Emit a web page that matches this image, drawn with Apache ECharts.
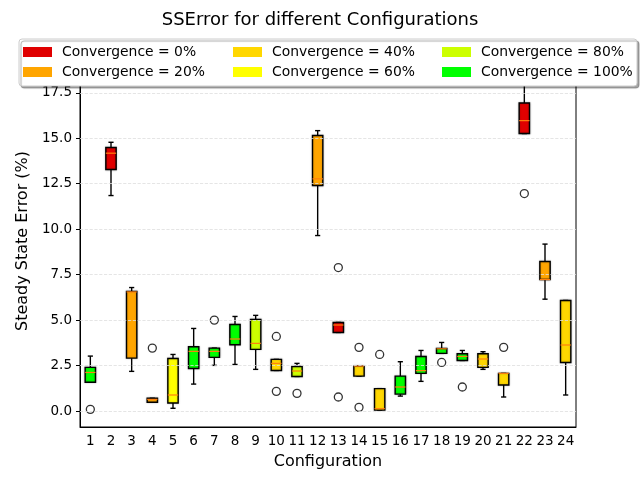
<!DOCTYPE html>
<html>
<head>
<meta charset="UTF-8">
<title>SSError</title>
<style type="text/css">
	html, body { margin: 0; padding: 0; background: #fff; }
	#chart { width: 640px; height: 480px; }
</style>
<script type="text/javascript" src="https://cdn.jsdelivr.net/npm/echarts@6/dist/echarts.min.js"></script>
</head>
<body>
<div id="chart"></div>
<script type="text/javascript">
	// configurations 1..24
	var categories = ['1','2','3','4','5','6','7','8','9','10','11','12','13','14','15','16','17','18','19','20','21','22','23','24'];
	// box statistics
	var whiskerLow  = [1.58, 11.85, 2.18, 0.48, 0.15, 1.48, 2.51, 2.56, 2.29, 2.23, 1.90, 9.65, 4.32, 1.92, 0.05, 0.82, 1.63, 3.17, 2.78, 2.29, 0.77, 15.26, 6.15, 0.88];
	var q1          = [1.58, 13.28, 2.91, 0.48, 0.44, 2.34, 2.95, 3.64, 3.39, 2.23, 1.90, 12.40, 4.32, 1.92, 0.05, 0.93, 2.07, 3.17, 2.78, 2.40, 1.43, 15.26, 7.23, 2.67];
	var median      = [2.12, 14.18, 6.55, 0.64, 0.88, 3.28, 3.28, 3.96, 3.72, 2.62, 2.20, 12.77, 4.73, 2.47, 0.13, 1.32, 2.22, 3.42, 3.00, 2.86, 2.07, 15.97, 7.23, 3.63];
	var q3          = [2.40, 14.49, 6.58, 0.70, 2.89, 3.53, 3.46, 4.76, 5.04, 2.84, 2.45, 15.15, 4.87, 2.47, 1.23, 1.92, 3.00, 3.44, 3.15, 3.15, 2.07, 16.94, 8.22, 6.08];
	var whiskerHigh = [3.02, 14.78, 6.79, 0.70, 3.11, 4.54, 3.46, 5.20, 5.26, 2.84, 2.62, 15.42, 4.87, 2.47, 1.23, 2.71, 3.33, 3.77, 3.33, 3.26, 2.07, 18.65, 9.18, 6.08];
	// convergence level of each configuration (index into levels)
	var convergence = [5, 0, 1, 1, 3, 5, 5, 5, 4, 2, 4, 1, 0, 2, 2, 5, 5, 5, 5, 2, 2, 0, 1, 2];
	// outliers: [configuration index, value]
	var outliers = [[0, 0.09], [3, 3.46], [6, 5.00], [9, 4.10], [9, 1.08], [10, 0.97],
		[12, 7.89], [12, 0.77], [13, 3.50], [13, 0.20], [14, 3.11], [17, 2.67],
		[18, 1.32], [20, 3.50], [21, 11.96]];
	var levels = ['Convergence = 0%', 'Convergence = 20%', 'Convergence = 40%', 'Convergence = 60%', 'Convergence = 80%', 'Convergence = 100%'];
	var levelColors = ['#e00000', '#ffa500', '#ffd700', '#ffff00', '#ccff00', '#00ff00'];
	var yTicks = [0, 2.5, 5, 7.5, 10, 12.5, 15, 17.5];

	var boxData = [];
	for (var i = 0; i < categories.length; i++) {
		boxData.push([i, whiskerLow[i], q1[i], median[i], q3[i], whiskerHigh[i], convergence[i]]);
	}

	function renderBox(params, api) {
		var x = api.value(0);
		var lo = api.coord([x, api.value(1)]);
		var b1 = api.coord([x, api.value(2)]);
		var md = api.coord([x, api.value(3)]);
		var b3 = api.coord([x, api.value(4)]);
		var hi = api.coord([x, api.value(5)]);
		var band = api.size([1, 0])[0];
		var bw = band * 0.5, cw = bw * 0.5;
		var cx = lo[0];
		var line = { stroke: '#000', lineWidth: 1.4 };
		return {
			type: 'group',
			children: [
				{ type: 'line', shape: { x1: cx, y1: b3[1], x2: cx, y2: hi[1] }, style: line },
				{ type: 'line', shape: { x1: cx, y1: b1[1], x2: cx, y2: lo[1] }, style: line },
				{ type: 'line', shape: { x1: cx - cw / 2, y1: hi[1], x2: cx + cw / 2, y2: hi[1] }, style: line },
				{ type: 'line', shape: { x1: cx - cw / 2, y1: lo[1], x2: cx + cw / 2, y2: lo[1] }, style: line },
				{ type: 'rect', shape: { x: cx - bw / 2, y: b3[1], width: bw, height: b1[1] - b3[1] },
					style: { fill: levelColors[api.value(6)], stroke: '#000', lineWidth: 1.4,
						shadowColor: 'rgba(0,0,0,0.25)', shadowBlur: 2 } },
				{ type: 'line', shape: { x1: cx - bw / 2, y1: md[1], x2: cx + bw / 2, y2: md[1] },
					style: { stroke: '#ff7f0e', lineWidth: 1.2 } }
			]
		};
	}

	var series = [];
	// empty series only for the legend entries
	for (var k = 0; k < levels.length; k++) {
		series.push({ name: levels[k], type: 'bar', data: [], itemStyle: { color: levelColors[k] } });
	}
	series.push({
		name: 'grid', type: 'scatter', data: [], z: 1, silent: true,
		markLine: {
			silent: true, symbol: 'none', label: { show: false },
			lineStyle: { color: '#dedede', type: 'dashed', width: 0.8 },
			data: yTicks.map(function (v) { return { yAxis: v }; })
		}
	});
	series.push({
		name: 'boxes', type: 'custom', renderItem: renderBox, data: boxData, z: 3,
		encode: { x: 0, y: [1, 2, 3, 4, 5] }
	});
	series.push({
		name: 'outliers', type: 'scatter', data: outliers, z: 4,
		symbol: 'circle', symbolSize: 8,
		itemStyle: { color: '#fff', borderColor: '#000', borderWidth: 1.3 }
	});

	var legendText = { fontFamily: 'DejaVu Sans', fontSize: 13.9, color: '#000', lineHeight: 14, padding: [0, 0, 0, 5] };
	function legendCol(left, names) {
		return {
			orient: 'vertical', left: left, top: 45, z: 10, padding: 0,
			icon: 'rect', itemWidth: 29, itemHeight: 10, itemGap: 6,
			selectedMode: false, textStyle: legendText, data: names
		};
	}

	var chart = echarts.init(document.getElementById('chart'));
	var option = {
		animation: false,
		backgroundColor: '#fff',
		title: {
			text: 'SSError for different Configurations', left: 'center', top: 6,
			textStyle: { fontFamily: 'DejaVu Sans', fontSize: 18, fontWeight: 'normal', color: '#000' }
		},
		legend: [
			legendCol(23, [levels[0], levels[1]]),
			legendCol(233, [levels[2], levels[3]]),
			legendCol(442, [levels[4], levels[5]])
		],
		graphic: [{
			type: 'rect', z: 9,
			shape: { x: 19, y: 39, width: 618, height: 47, r: 3 },
			style: { fill: '#fff', stroke: '#cccccc', lineWidth: 1,
				shadowColor: 'rgba(0,0,0,0.35)', shadowOffsetX: 2, shadowOffsetY: 2, shadowBlur: 1 }
		}],
		grid: { left: 80, right: 64, top: 55, bottom: 53, show: true, borderColor: '#000', borderWidth: 1, backgroundColor: 'transparent' },
		xAxis: {
			type: 'category', data: categories,
			name: 'Configuration', nameLocation: 'middle', nameGap: 27,
			nameTextStyle: { fontFamily: 'DejaVu Sans', fontSize: 16, color: '#000' },
			axisLine: { onZero: false, lineStyle: { color: '#000' } },
			axisTick: { alignWithLabel: true, length: 4, lineStyle: { color: '#000' } },
			axisLabel: { fontFamily: 'DejaVu Sans', fontSize: 13.5, color: '#000', margin: 7, interval: 0 },
			splitLine: { show: false }
		},
		yAxis: {
			type: 'value', min: -0.88, max: 19.58,
			name: 'Steady State Error (%)', nameLocation: 'middle', nameGap: 47,
			nameTextStyle: { fontFamily: 'DejaVu Sans', fontSize: 16, color: '#000' },
			axisLine: { show: true, lineStyle: { color: '#000' } },
			axisTick: { show: true, length: 4, customValues: yTicks, lineStyle: { color: '#000' } },
			axisLabel: {
				fontFamily: 'DejaVu Sans', fontSize: 13.5, color: '#000', margin: 8,
				customValues: yTicks,
				formatter: function (v) { return v.toFixed(1); }
			},
			splitLine: { show: false }
		},
		series: series
	};
	chart.setOption(option);
</script>
</body>
</html>
